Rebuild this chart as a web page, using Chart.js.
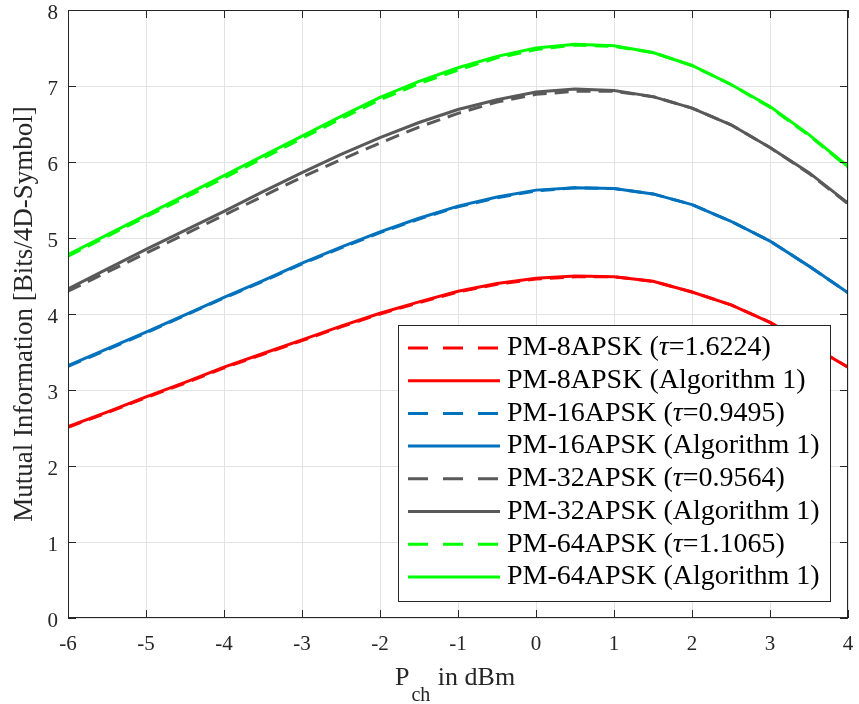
<!DOCTYPE html>
<html>
<head>
<meta charset="utf-8">
<script src="https://cdn.jsdelivr.net/npm/chart.js@4"></script>
<style>
  html, body { margin: 0; padding: 0; background: #fff; }
  #wrap { width: 859px; height: 704px; }
</style>
</head>
<body>
<div id="wrap"><canvas id="myChart" width="859" height="704"></canvas></div>
<script>
'use strict';

const pch = [-6, -5.5, -5, -4.5, -4, -3.5, -3, -2.5, -2, -1.5, -1, -0.5, 0, 0.5, 1, 1.5, 2, 2.5, 3, 3.5, 4];

const apsk8Tau = [2.51, 2.70, 2.90, 3.09, 3.29, 3.47, 3.65, 3.83, 4.00, 4.15, 4.29, 4.39, 4.46, 4.49, 4.49, 4.43, 4.29, 4.12, 3.89, 3.60, 3.30];
const apsk8Alg = [2.52, 2.71, 2.91, 3.10, 3.30, 3.48, 3.66, 3.84, 4.01, 4.16, 4.30, 4.40, 4.47, 4.50, 4.49, 4.43, 4.29, 4.12, 3.89, 3.60, 3.30];
const apsk16Tau = [3.31, 3.53, 3.75, 3.98, 4.21, 4.43, 4.66, 4.87, 5.07, 5.25, 5.41, 5.53, 5.62, 5.66, 5.65, 5.58, 5.44, 5.22, 4.96, 4.63, 4.28];
const apsk16Alg = [3.32, 3.54, 3.76, 3.99, 4.22, 4.44, 4.67, 4.88, 5.08, 5.26, 5.42, 5.54, 5.63, 5.66, 5.65, 5.58, 5.44, 5.22, 4.96, 4.63, 4.28];
const apsk32Tau = [4.30, 4.55, 4.80, 5.05, 5.30, 5.55, 5.80, 6.03, 6.25, 6.46, 6.64, 6.79, 6.89, 6.93, 6.93, 6.86, 6.71, 6.49, 6.19, 5.85, 5.45];
const apsk32Alg = [4.33, 4.59, 4.85, 5.10, 5.35, 5.61, 5.86, 6.10, 6.32, 6.52, 6.69, 6.82, 6.92, 6.96, 6.94, 6.86, 6.71, 6.49, 6.19, 5.86, 5.46];
const apsk64Tau = [4.76, 5.02, 5.28, 5.53, 5.79, 6.05, 6.31, 6.57, 6.82, 7.03, 7.21, 7.37, 7.48, 7.54, 7.52, 7.44, 7.27, 7.02, 6.72, 6.35, 5.93];
const apsk64Alg = [4.78, 5.04, 5.30, 5.56, 5.82, 6.08, 6.34, 6.60, 6.85, 7.06, 7.24, 7.39, 7.50, 7.55, 7.53, 7.44, 7.27, 7.02, 6.73, 6.36, 5.94];

const xTicks = [-6, -5, -4, -3, -2, -1, 0, 1, 2, 3, 4];
const yTicks = [0, 1, 2, 3, 4, 5, 6, 7, 8];

const RED = '#ff0000';
const BLUE = '#0072bd';
const GRAY = '#595959';
const GREEN = '#00ff00';
const FONT = '"Liberation Serif", "Times New Roman", serif';
const AXIS = '#262626';

function pts(ys) {
  return pch.map((x, i) => ({ x: x, y: ys[i] }));
}

function series(label, tau, ys, color, dashed) {
  return {
    label: label,
    tau: tau,
    data: pts(ys),
    borderColor: color,
    backgroundColor: color,
    borderWidth: 3,
    borderDash: dashed ? [14, 8] : [],
    pointRadius: 0,
    tension: 0,
    order: dashed ? 1 : 0,
  };
}

const datasets = [
  series('PM-8APSK', '1.6224', apsk8Tau, RED, true),
  series('PM-8APSK', null, apsk8Alg, RED, false),
  series('PM-16APSK', '0.9495', apsk16Tau, BLUE, true),
  series('PM-16APSK', null, apsk16Alg, BLUE, false),
  series('PM-32APSK', '0.9564', apsk32Tau, GRAY, true),
  series('PM-32APSK', null, apsk32Alg, GRAY, false),
  series('PM-64APSK', '1.1065', apsk64Tau, GREEN, true),
  series('PM-64APSK', null, apsk64Alg, GREEN, false),
];

// box, inward ticks, axis titles
const frame = {
  id: 'frame',
  afterDraw(chart) {
    const { ctx, chartArea: a, scales: { x, y } } = chart;
    ctx.save();
    ctx.strokeStyle = AXIS;
    ctx.lineWidth = 1;
    ctx.strokeRect(a.left + 0.5, a.top + 0.5, a.right - a.left - 1, a.bottom - a.top - 1);
    ctx.beginPath();
    xTicks.forEach(v => {
      const px = Math.round(x.getPixelForValue(v)) + 0.5;
      ctx.moveTo(px, a.bottom); ctx.lineTo(px, a.bottom - 8);
      ctx.moveTo(px, a.top); ctx.lineTo(px, a.top + 8);
    });
    yTicks.forEach(v => {
      const py = Math.round(y.getPixelForValue(v)) + 0.5;
      ctx.moveTo(a.left, py); ctx.lineTo(a.left + 8, py);
      ctx.moveTo(a.right, py); ctx.lineTo(a.right - 8, py);
    });
    ctx.stroke();

    ctx.fillStyle = AXIS;
    // y title
    ctx.save();
    ctx.translate(25, (a.top + a.bottom) / 2);
    ctx.rotate(-Math.PI / 2);
    ctx.font = '27px ' + FONT;
    ctx.textAlign = 'center';
    ctx.textBaseline = 'middle';
    ctx.fillText('Mutual Information [Bits/4D-Symbol]', 0, 0);
    ctx.restore();

    // x title with subscript
    ctx.textBaseline = 'alphabetic';
    ctx.textAlign = 'left';
    const base = 685;
    const p = 'P', sub = 'ch', rest = ' in dBm';
    ctx.font = '26px ' + FONT;
    const wP = ctx.measureText(p).width;
    ctx.font = '20px ' + FONT;
    const wS = ctx.measureText(sub).width + 3;
    const sx = 395;
    ctx.font = '26px ' + FONT;
    ctx.fillText(p, sx, base);
    ctx.font = '20px ' + FONT;
    ctx.fillText(sub, sx + wP + 2, base + 16);
    ctx.font = '26px ' + FONT;
    ctx.fillText(rest, sx + wP + wS, base);
    ctx.restore();
  }
};

// legend box in the lower right of the plot
const boxLegend = {
  id: 'boxLegend',
  afterDraw(chart) {
    const ctx = chart.ctx;
    const bx = 398, by = 325, bw = 432, bh = 276, rowH = 32.7;
    ctx.save();
    ctx.fillStyle = '#fff';
    ctx.fillRect(bx, by, bw, bh);
    ctx.strokeStyle = AXIS;
    ctx.lineWidth = 1;
    ctx.strokeRect(bx + 0.5, by + 0.5, bw, bh);
    chart.data.datasets.forEach((ds, i) => {
      const cy = by + 23 + i * rowH;
      ctx.strokeStyle = ds.borderColor;
      ctx.lineWidth = 3;
      ctx.setLineDash(ds.borderDash.length ? [20, 15] : []);
      ctx.beginPath();
      ctx.moveTo(408, cy);
      ctx.lineTo(500, cy);
      ctx.stroke();
      ctx.setLineDash([]);
      ctx.fillStyle = '#000';
      ctx.textBaseline = 'middle';
      ctx.textAlign = 'left';
      let tx = 507;
      ctx.font = '28px ' + FONT;
      if (ds.tau) {
        const s1 = ds.label + ' (';
        ctx.fillText(s1, tx, cy);
        tx += ctx.measureText(s1).width;
        ctx.font = 'italic 28px ' + FONT;
        ctx.fillText('\u03c4', tx, cy);
        tx += ctx.measureText('\u03c4').width;
        ctx.font = '28px ' + FONT;
        ctx.fillText('=' + ds.tau + ')', tx, cy);
      } else {
        ctx.fillText(ds.label + ' (Algorithm 1)', tx, cy);
      }
    });
    ctx.restore();
  }
};

const config = {
  type: 'line',
  data: { datasets: datasets },
  options: {
    responsive: false,
    animation: false,
    layout: { padding: { top: 10, right: 11, left: 0, bottom: 0 } },
    plugins: { legend: { display: false }, tooltip: { enabled: false } },
    scales: {
      x: {
        type: 'linear',
        min: -6,
        max: 4,
        afterBuildTicks(scale) { scale.ticks = xTicks.map(v => ({ value: v })); },
        afterFit(scale) { scale.height = 86; scale.paddingLeft = 0; scale.paddingRight = 0; },
        grid: { color: '#e3e3e3', drawTicks: false },
        border: { display: false },
        ticks: { color: AXIS, font: { family: FONT, size: 21 }, padding: 14, maxRotation: 0 },
      },
      y: {
        min: 0,
        max: 8,
        afterBuildTicks(scale) { scale.ticks = yTicks.map(v => ({ value: v })); },
        afterFit(scale) { scale.width = 68; scale.paddingTop = 0; scale.paddingBottom = 0; },
        grid: { color: '#e3e3e3', drawTicks: false },
        border: { display: false },
        ticks: { color: AXIS, font: { family: FONT, size: 21 }, padding: 10, labelOffset: 3 },
      },
    },
  },
  plugins: [frame, boxLegend],
};

const myChart = new Chart(document.getElementById('myChart'), config);
</script>
</body>
</html>
